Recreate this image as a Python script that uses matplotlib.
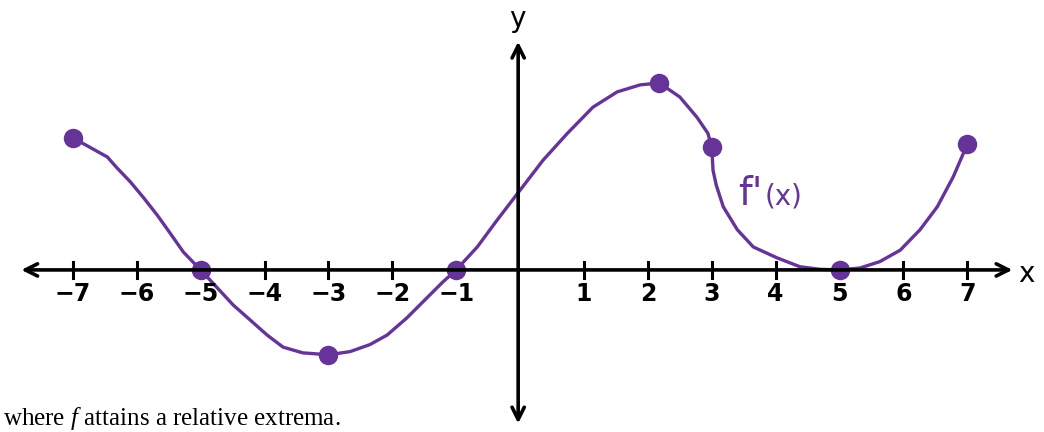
import matplotlib.pyplot as plt

plt.rcParams['mathtext.fontset'] = 'custom'
plt.rcParams['mathtext.rm'] = 'Liberation Serif'
plt.rcParams['mathtext.it'] = 'Liberation Serif:italic'

# traced curve of f'(x)
curve_x = [-7.0, -6.73, -6.46, -6.31, -6.10, -5.90, -5.68, -5.48, -5.27, -5.0,
           -4.74, -4.49, -4.23, -3.96, -3.71, -3.40, -3.0, -2.66, -2.35, -2.08,
           -1.77, -1.46, -1.21, -1.0, -0.67, -0.36, 0.0, 0.36, 0.74, 1.14, 1.52,
           1.88, 2.18, 2.50, 2.77, 2.94, 3.0, 3.02, 3.07, 3.18, 3.40, 3.65, 4.02,
           4.38, 4.69, 5.0, 5.32, 5.63, 5.95, 6.26, 6.53, 6.78, 7.0]
curve_y = [2.07, 1.92, 1.77, 1.60, 1.38, 1.14, 0.86, 0.58, 0.28, 0.0,
           -0.28, -0.55, -0.78, -1.02, -1.21, -1.30, -1.33, -1.28, -1.17, -1.02,
           -0.75, -0.44, -0.19, 0.0, 0.36, 0.78, 1.25, 1.72, 2.14, 2.55, 2.79,
           2.90, 2.93, 2.71, 2.39, 2.14, 1.92, 1.56, 1.33, 0.99, 0.63, 0.36, 0.19,
           0.05, 0.01, 0.0, 0.03, 0.13, 0.31, 0.63, 0.99, 1.46, 1.97]

# marked points
dot_x = [-7, -5, -3, -1, 2.18, 3, 5, 7]
dot_y = [2.07, 0, -1.33, 0, 2.93, 1.92, 0, 1.97]

ticks = [-7, -6, -5, -4, -3, -2, -1, 1, 2, 3, 4, 5, 6, 7]

purple = '#663399'

fig = plt.figure(figsize=(10.44, 4.32), dpi=100)
ax = fig.add_axes([0, 0, 1, 1])
ax.set_xlim(-8.14, 8.20)
ax.set_ylim(-2.54, 4.23)
ax.axis('off')

# axes with arrows
ax.annotate('', xy=(7.75, 0), xytext=(-7.85, 0),
            arrowprops=dict(arrowstyle='<->', color='black', lw=2.6,
                            mutation_scale=22))
ax.annotate('', xy=(-0.03, 3.62), xytext=(-0.03, -2.45),
            arrowprops=dict(arrowstyle='<->', color='black', lw=2.6,
                            mutation_scale=22))

for t in ticks:
    ax.plot([t, t], [-0.12, 0.12], color='black', lw=2.2)
    lab = str(t).replace('-', '\u2212')
    ax.text(t, -0.38, lab, ha='center', va='center', fontsize=17,
            fontweight='bold', color='black')

ax.text(-0.05, 3.94, 'y', ha='center', va='center', fontsize=20, color='black')
ax.text(7.92, -0.06, 'x', ha='center', va='center', fontsize=20, color='black')

ax.plot(curve_x, curve_y, color=purple, lw=2.4, solid_capstyle='round',
        solid_joinstyle='round')
ax.plot(dot_x, dot_y, 'o', color=purple, ms=13)

# f'(x) label: large f', smaller (x)
ax.text(3.80, 1.02, "f'", ha='right', va='baseline', fontsize=28, color=purple)
ax.text(3.82, 1.02, "(x)", ha='left', va='baseline', fontsize=20, color=purple)

fig.text(0.003, 1 - 425 / 432, 'where $f$ attains a relative extrema.',
         family='Liberation Serif', fontsize=18, va='baseline', ha='left')

fig.savefig('out.png', dpi=100)
